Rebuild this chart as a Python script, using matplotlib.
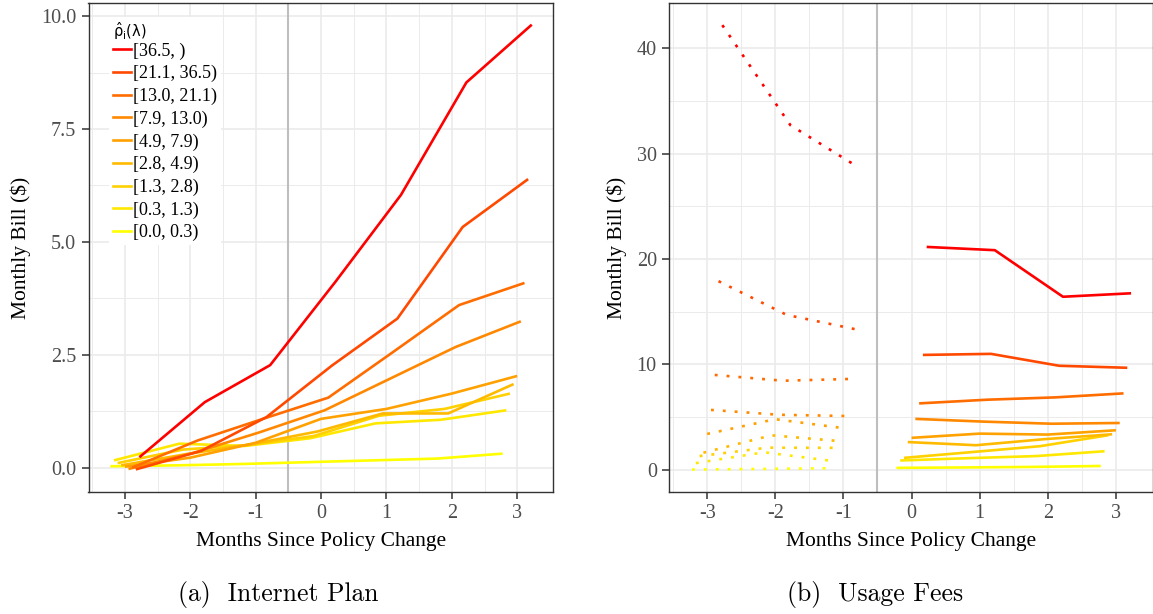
import numpy as np
import matplotlib
matplotlib.use("Agg")
import matplotlib.pyplot as plt
from matplotlib.lines import Line2D

# ---------------------------------------------------------------- data
bin_labels = ["[36.5, )", "[21.1, 36.5)", "[13.0, 21.1)", "[7.9, 13.0)",
              "[4.9, 7.9)", "[2.8, 4.9)", "[1.3, 2.8)", "[0.3, 1.3)",
              "[0.0, 0.3)"]

months_all = [-3, -2, -1, 0, 1, 2, 3]
months_pre = [-3, -2, -1]
months_post = [0, 1, 2, 3]

# Internet plan bill by month, one row per bin (highest bin first)
plan_bill = [
    [0.23, 1.45, 2.27, 4.12, 6.04, 8.53, 9.81],
    [-0.04, 0.37, 1.12, 2.26, 3.30, 5.33, 6.39],
    [0.00, 0.60, 1.08, 1.55, 2.57, 3.60, 4.09],
    [-0.03, 0.33, 0.78, 1.27, 1.97, 2.67, 3.24],
    [0.02, 0.22, 0.55, 1.08, 1.30, 1.64, 2.03],
    [0.05, 0.30, 0.52, 0.80, 1.20, 1.20, 1.85],
    [0.10, 0.40, 0.50, 0.70, 1.15, 1.30, 1.64],
    [0.16, 0.53, 0.48, 0.65, 0.98, 1.06, 1.27],
    [0.03, 0.05, 0.08, 0.12, 0.16, 0.20, 0.31],
]

# Usage fees before the policy change
fees_pre = [
    [42.2, 32.7, 28.7],
    [17.9, 14.7, 13.35],
    [9.0, 8.45, 8.62],
    [5.68, 5.22, 5.10],
    [3.40, 4.80, 3.95],
    [1.62, 3.27, 2.72],
    [1.30, 2.10, 2.08],
    [0.63, 1.66, 0.84],
    [0.02, 0.08, 0.14],
]

# Usage fees after the policy change
fees_post = [
    [21.15, 20.84, 16.42, 16.75],
    [10.9, 11.0, 9.87, 9.68],
    [6.30, 6.65, 6.87, 7.25],
    [4.83, 4.57, 4.37, 4.44],
    [3.03, 3.43, 3.34, 3.75],
    [2.63, 2.33, 2.90, 3.37],
    [1.13, 1.68, 2.24, 3.28],
    [0.88, 1.10, 1.30, 1.76],
    [0.18, 0.22, 0.27, 0.36],
]

left_yticks = [0.0, 2.5, 5.0, 7.5, 10.0]
left_yticklabels = ["0.0", "2.5", "5.0", "7.5", "10.0"]
right_yticks = [0, 10, 20, 30, 40]
xticks = [-3, -2, -1, 0, 1, 2, 3]

# ---------------------------------------------------------------- colours
_M = np.array([[0.4124564, 0.3575761, 0.1804375],
               [0.2126729, 0.7151522, 0.0721750],
               [0.0193339, 0.1191920, 0.9503041]])
_WHITE = np.array([0.95047, 1.0, 1.08883])


def srgb_to_lab(c):
    c = np.asarray(c, float)
    lin = np.where(c <= 0.04045, c / 12.92, ((c + 0.055) / 1.055) ** 2.4)
    t = (_M @ lin) / _WHITE
    d = 6 / 29
    f = np.where(t > d ** 3, np.cbrt(t), t / (3 * d * d) + 4 / 29)
    return np.array([116 * f[1] - 16, 500 * (f[0] - f[1]), 200 * (f[1] - f[2])])


def lab_to_srgb(lab):
    L, a, b = lab
    fy = (L + 16) / 116
    f = np.array([fy + a / 500, fy, fy - b / 200])
    d = 6 / 29
    t = np.where(f > d, f ** 3, 3 * d * d * (f - 4 / 29))
    lin = np.clip(np.linalg.inv(_M) @ (t * _WHITE), 0, 1)
    c = np.where(lin <= 0.0031308, 12.92 * lin, 1.055 * lin ** (1 / 2.4) - 0.055)
    return tuple(np.clip(c, 0, 1))


n_bins = len(bin_labels)
lab_hi = srgb_to_lab([1, 0, 0])
lab_lo = srgb_to_lab([1, 1, 0])
colors = [lab_to_srgb(lab_hi + (lab_lo - lab_hi) * k / (n_bins - 1))
          for k in range(n_bins)]

# horizontal dodge: highest bin shifted right, lowest shifted left
dodge_width = 0.5
offsets = [(n_bins - 1 - k - (n_bins - 1) / 2) * dodge_width / n_bins
           for k in range(n_bins)]

# ---------------------------------------------------------------- style
serif = ["Liberation Serif", "DejaVu Serif"]
plt.rcParams["font.family"] = serif
plt.rcParams["mathtext.fontset"] = "dejavusans"
tick_col = "#4D4D4D"
border_col = "#333333"
grid_col = "#EBEBEB"
lw = 1.9

fig = plt.figure(figsize=(11.53, 6.14), dpi=100)
ax_l = fig.add_axes([88.5 / 1153, 1 - 492 / 614, 464.3 / 1153, 489 / 614])
ax_r = fig.add_axes([669.3 / 1153, 1 - 492 / 614, 483.7 / 1153, 489 / 614])


def style_axes(ax, yticks, yticklabels, ylim):
    ax.set_xticks(xticks)
    ax.set_xticklabels([str(v) for v in xticks])
    ax.set_yticks(yticks)
    ax.set_yticklabels(yticklabels)
    step = yticks[1] - yticks[0]
    ax.set_xticks([v + 0.5 for v in xticks[:-1]] + [-3.5], minor=True)
    ax.set_yticks([v + step / 2 for v in yticks], minor=True)
    ax.set_xlim(-3.556, 3.544)
    ax.set_ylim(*ylim)
    ax.grid(which="major", color=grid_col, linewidth=1.2, zorder=0)
    ax.grid(which="minor", color=grid_col, linewidth=0.7, zorder=0)
    ax.set_axisbelow(True)
    ax.tick_params(which="major", direction="out", length=5, width=1.1,
                   color=border_col, labelcolor=tick_col, labelsize=14.5,
                   pad=4)
    ax.tick_params(which="minor", length=0)
    for s in ax.spines.values():
        s.set_color(border_col)
        s.set_linewidth(1.0)
    ax.axvline(-0.5, color="#BEBEBE", linewidth=1.5, zorder=1.5)
    ax.set_xlabel("Months Since Policy Change", fontsize=15.5, labelpad=6)
    ax.set_ylabel("Monthly Bill ($)", fontsize=15.5, labelpad=7)


style_axes(ax_l, left_yticks, left_yticklabels, (-0.54, 10.29))
style_axes(ax_r, right_yticks, [str(v) for v in right_yticks], (-2.11, 44.3))

# left panel: internet plan
for k in reversed(range(n_bins)):
    xs = [m + offsets[k] for m in months_all]
    ax_l.plot(xs, plan_bill[k], color=colors[k], linewidth=lw,
              solid_capstyle="butt", zorder=3)

# right panel: usage fees, dotted before and solid after the change
for k in reversed(range(n_bins)):
    xs_pre = [m + offsets[k] for m in months_pre]
    xs_post = [m + offsets[k] for m in months_post]
    ax_r.plot(xs_pre, fees_pre[k], color=colors[k], linewidth=lw,
              linestyle=(0, (1.1, 3.4)), dash_capstyle="butt", zorder=3)
    ax_r.plot(xs_post, fees_post[k], color=colors[k], linewidth=lw,
              solid_capstyle="butt", zorder=3)

handles = [Line2D([], [], color=colors[k], linewidth=lw) for k in range(n_bins)]
leg = ax_l.legend(handles, bin_labels, loc="upper left",
                  bbox_to_anchor=(0.037, 0.979),
                  title=r"$\hat{\mathrm{\rho}}_{\mathrm{i}}(\mathrm{\lambda})$",
                  title_fontsize=10.5,
                  fontsize=13, frameon=True, facecolor="white",
                  edgecolor="none", framealpha=1, fancybox=False,
                  handlelength=1.0, handletextpad=0.12, labelspacing=0.30,
                  borderpad=0.2, borderaxespad=0.2, alignment="left")
leg._legend_box.sep = 0
leg.set_zorder(5)

fig.text(278 / 1153, 1 - 594 / 614, "(a)  Internet Plan", family="cmr10",
         fontsize=18.5, ha="center", va="center")
fig.text(875 / 1153, 1 - 594 / 614, "(b)  Usage Fees", family="cmr10",
         fontsize=18.5, ha="center", va="center")

fig.savefig("out.png", dpi=100)
